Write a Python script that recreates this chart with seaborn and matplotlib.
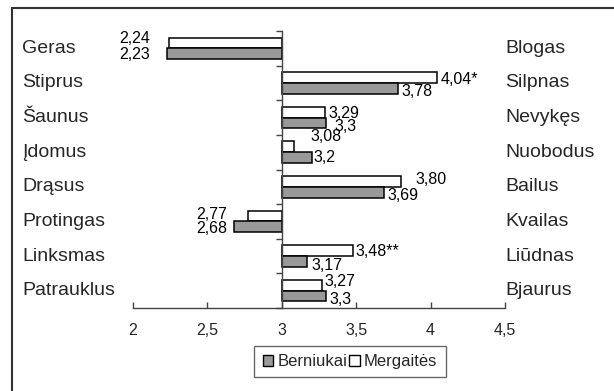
import matplotlib
matplotlib.use("Agg")
import matplotlib.pyplot as plt
import matplotlib.transforms as mtransforms
from matplotlib.patches import Patch
from matplotlib.lines import Line2D
import seaborn as sns
import pandas as pd
import numpy as np

# ---- data ----
left_labels = ["Geras", "Stiprus", "Šaunus", "Įdomus", "Drąsus", "Protingas", "Linksmas", "Patrauklus"]
right_labels = ["Blogas", "Silpnas", "Nevykęs", "Nuobodus", "Bailus", "Kvailas", "Liūdnas", "Bjaurus"]
girls = [2.24, 4.04, 3.29, 3.08, 3.80, 2.77, 3.48, 3.27]
boys = [2.23, 3.78, 3.30, 3.20, 3.69, 2.68, 3.17, 3.30]
girls_text = ["2,24", "4,04*", "3,29", "3,08", "3,80", "2,77", "3,48**", "3,27"]
boys_text = ["2,23", "3,78", "3,3", "3,2", "3,69", "2,68", "3,17", "3,3"]
series_names = ["Mergaitės", "Berniukai"]
baseline = 3.0
xticks = [2, 2.5, 3, 3.5, 4, 4.5]
xtick_labels = ["2", "2,5", "3", "3,5", "4", "4,5"]

# ---- label offsets (pixels: dx, dy image-down) ----
girls_off = [(-19, -4), (4, 2), (4, 1), (17, -10), (15, -2), (-20, -2), (2, 1), (2, -4)]
boys_off = [(-17, 1), (4, 3), (8, 4), (2, 0), (3, 3), (-7, 2), (4, 4), (3, 3)]

sns.set_theme(style="white")
plt.rcParams["font.family"] = ["Liberation Sans", "DejaVu Sans"]

df = pd.DataFrame({
    "cat": left_labels * 2,
    "group": [series_names[0]] * len(girls) + [series_names[1]] * len(boys),
    "diff": [v - baseline for v in girls] + [v - baseline for v in boys],
})

W, H = 614, 391
fig = plt.figure(figsize=(W / 100, H / 100), dpi=100)
fig.patch.set_facecolor("white")
ax = fig.add_axes([133 / W, 1 - 308 / H, (505 - 133) / W, (308 - 31) / H])
ax.set_facecolor("white")

gray = "#999999"
sns.barplot(data=df, y="cat", x="diff", hue="group", hue_order=series_names,
            palette={series_names[0]: "white", series_names[1]: gray},
            width=0.62, edgecolor="black", linewidth=1.1, orient="h",
            saturation=1, ax=ax, legend=False)

ax.set_xlim(-1, 1.5)
ax.set_ylim(len(left_labels) - 0.5, -0.5)
ax.set_xticks([t - baseline for t in xticks])
ax.set_xticklabels(xtick_labels, fontsize=11.5)
ax.set_yticks(np.arange(-0.5, len(left_labels), 1.0))
ax.set_yticklabels([])
ax.set_xlabel("")
ax.set_ylabel("")
for s in ["top", "right"]:
    ax.spines[s].set_visible(False)
ax.spines["left"].set_position(("data", 0))
ax.spines["left"].set_color("#444444")
ax.spines["bottom"].set_color("#444444")
ax.spines["left"].set_linewidth(1.0)
ax.spines["bottom"].set_linewidth(1.0)
ax.tick_params(axis="x", direction="in", length=4, width=1, color="#444444", pad=11, bottom=True)
ax.tick_params(axis="y", direction="out", length=4, width=1, color="#444444", left=True)
ax.grid(False)

# value labels
for i in range(len(left_labels)):
    for vals, texts, offs, dyrow in ((girls, girls_text, girls_off, -0.155),
                                     (boys, boys_text, boys_off, 0.155)):
        v = vals[i]
        dx, dy = offs[i]
        ax.annotate(texts[i], xy=(v - baseline, i + dyrow), xytext=(dx, -dy),
                    textcoords="offset pixels", ha="left" if v >= baseline else "right",
                    va="center", fontsize=11.5, color="black")

# category labels
tl = mtransforms.blended_transform_factory(fig.transFigure, ax.transData)
for i, (l, r) in enumerate(zip(left_labels, right_labels)):
    ax.text(22 / W, i, l, transform=tl, ha="left", va="center", fontsize=14, clip_on=False)
    ax.text(505 / W, i, r, transform=tl, ha="left", va="center", fontsize=14, clip_on=False)

# legend
handles = [Patch(facecolor=gray, edgecolor="black", label=series_names[1]),
           Patch(facecolor="white", edgecolor="black", label=series_names[0])]
leg = fig.legend(handles=handles, ncol=2, loc="center", bbox_to_anchor=(350 / W, 1 - 361.5 / H),
                 frameon=True, fancybox=False, fontsize=12, handlelength=0.65, handleheight=0.65,
                 handletextpad=0.25, columnspacing=0.1, borderpad=0.5, borderaxespad=0)
leg.get_frame().set_edgecolor("#444444")
leg.get_frame().set_linewidth(1.0)

# outer frame (top and left edges visible)
fig.add_artist(Line2D([12 / W, 1], [1 - 8 / H, 1 - 8 / H], transform=fig.transFigure,
                      color="#333333", lw=1.5))
fig.add_artist(Line2D([12 / W, 12 / W], [0, 1 - 8 / H], transform=fig.transFigure,
                      color="#333333", lw=1.5))

fig.savefig("out.png", dpi=100, facecolor="white")
